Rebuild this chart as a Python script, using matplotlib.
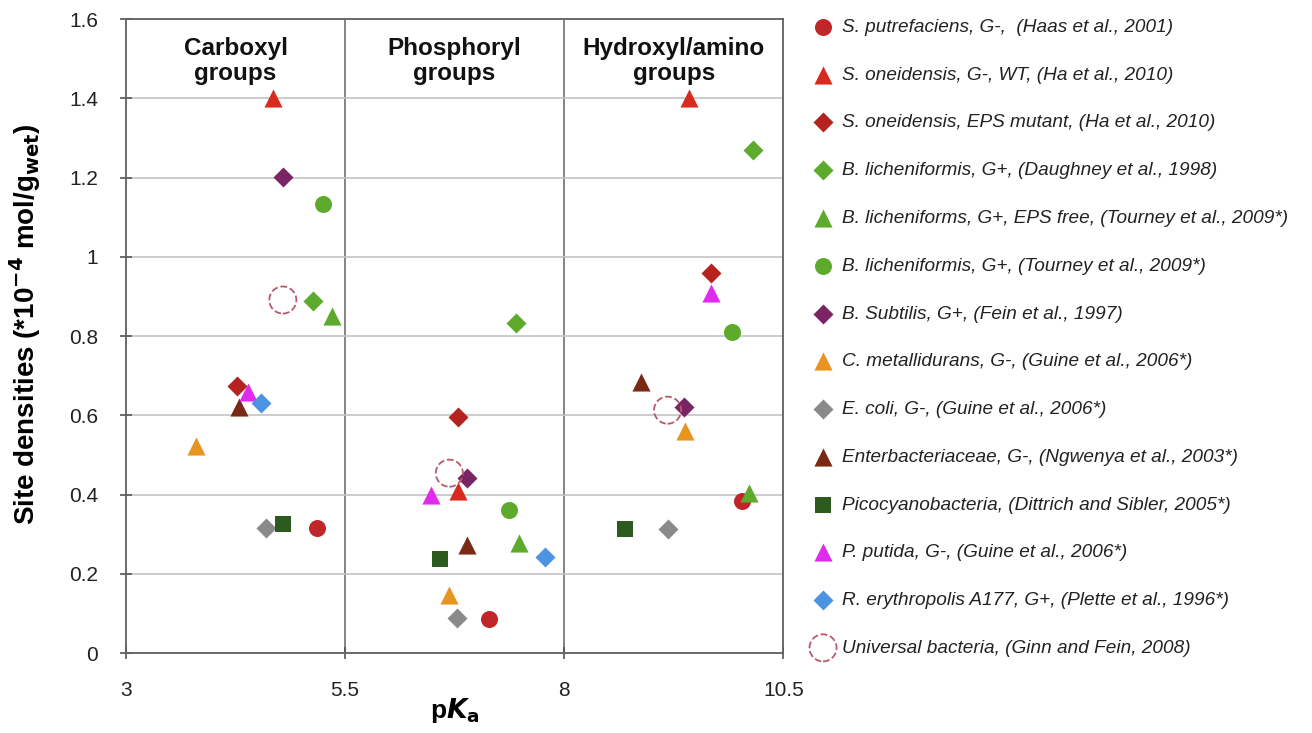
import matplotlib
matplotlib.use("Agg")
import matplotlib.pyplot as plt

plt.rcParams["font.family"] = ["Liberation Sans", "DejaVu Sans"]

# ---------------------------------------------------------------------------
# Site densities (x = pKa, y = site density in 1e-4 mol/g wet) per strain
# ---------------------------------------------------------------------------
labels = [
    "S. putrefaciens, G-,  (Haas et al., 2001)",
    "S. oneidensis, G-, WT, (Ha et al., 2010)",
    "S. oneidensis, EPS mutant, (Ha et al., 2010)",
    "B. licheniformis, G+, (Daughney et al., 1998)",
    "B. licheniforms, G+, EPS free, (Tourney et al., 2009*)",
    "B. licheniformis, G+, (Tourney et al., 2009*)",
    "B. Subtilis, G+, (Fein et al., 1997)",
    "C. metallidurans, G-, (Guine et al., 2006*)",
    "E. coli, G-, (Guine et al., 2006*)",
    "Enterbacteriaceae, G-, (Ngwenya et al., 2003*)",
    "Picocyanobacteria, (Dittrich and Sibler, 2005*)",
    "P. putida, G-, (Guine et al., 2006*)",
    "R. erythropolis A177, G+, (Plette et al., 1996*)",
    "Universal bacteria, (Ginn and Fein, 2008)",
]

pka = [
    [5.18, 7.14, 10.03],
    [4.68, 6.79, 9.43],
    [4.27, 6.79, 9.67],
    [5.13, 7.45, 10.15],
    [5.35, 7.49, 10.11],
    [5.25, 7.37, 9.91],
    [4.79, 6.89, 9.37],
    [3.80, 6.69, 9.38],
    [4.60, 6.78, 9.18],
    [4.29, 6.89, 8.88],
    [4.79, 6.58, 8.69],
    [4.39, 6.48, 9.68],
    [4.54, 7.78],
    [4.79, 6.69, 9.18],
]

density = [
    [0.315, 0.086, 0.384],
    [1.40, 0.41, 1.40],
    [0.674, 0.596, 0.96],
    [0.889, 0.834, 1.27],
    [0.85, 0.278, 0.404],
    [1.134, 0.361, 0.81],
    [1.202, 0.442, 0.621],
    [0.523, 0.146, 0.56],
    [0.315, 0.088, 0.313],
    [0.621, 0.273, 0.684],
    [0.326, 0.237, 0.313],
    [0.66, 0.40, 0.909],
    [0.632, 0.242],
    [0.891, 0.454, 0.613],
]

markers = ["o", "^", "D", "D", "^", "o", "D", "^", "D", "^", "s", "^", "D", "o"]
sizes = [150, 170, 104, 104, 170, 150, 104, 170, 104, 170, 132, 170, 104, 380]
colors = [
    "#C0252A", "#D92A20", "#B5221F", "#5DAA2C", "#5DAA2C", "#5DAA2C",
    "#7A2466", "#E8951F", "#8A8A8A", "#7A2A14", "#2D5A1E", "#E02BEF",
    "#4C93E2", "#B8596A",
]

group_names = ["Carboxyl\ngroups", "Phosphoryl\ngroups", "Hydroxyl/amino\ngroups"]
group_centers = [4.25, 6.75, 9.25]

fig = plt.figure(figsize=(13.12, 7.33), dpi=100)
ax = fig.add_axes([0.096, 0.109, 0.501, 0.865])

handles = []
for i, lab in enumerate(labels):
    if lab.startswith("Universal"):
        h = ax.scatter(pka[i], density[i], s=sizes[i], marker=markers[i],
                       facecolors="none", edgecolors=colors[i], linewidths=1.3,
                       linestyle="--", zorder=3, label=lab)
    else:
        h = ax.scatter(pka[i], density[i], s=sizes[i], marker=markers[i],
                       color=colors[i], linewidths=0, zorder=3, label=lab)
    handles.append(h)

ax.set_xlim(3, 10.5)
ax.set_ylim(0, 1.6)
ax.set_xticks([3, 5.5, 8, 10.5])
ax.set_xticklabels(["3", "5.5", "8", "10.5"])
ax.set_yticks([0, 0.2, 0.4, 0.6, 0.8, 1.0, 1.2, 1.4, 1.6])
ax.set_yticklabels(["0", "0.2", "0.4", "0.6", "0.8", "1", "1.2", "1.4", "1.6"])
ax.tick_params(axis="both", direction="inout", length=8, width=1.2,
               color="#555555", labelsize=15, labelcolor="#222222")
ax.tick_params(axis="y", pad=16)
ax.tick_params(axis="x", pad=16)

ax.grid(axis="y", color="#C4C4C4", linewidth=1.2, zorder=0)
for xv in [5.5, 8]:
    ax.axvline(xv, color="#707070", linewidth=1.2, zorder=1)
for side in ax.spines.values():
    side.set_color("#606060")
    side.set_linewidth(1.3)

for name, xc in zip(group_names, group_centers):
    ax.text(xc, 1.555, name, ha="center", va="top", fontsize=17.5,
            fontweight="bold", linespacing=1.1, color="#111111")

# y label placed in figure coordinates so it sits a little above the axes centre
fig.text(0.019, 0.284,
         r"Site densities (*10$^{\mathbf{-4}}$ mol/g$_{\mathbf{wet}}$)",
         rotation=90, ha="center", va="bottom", fontsize=20, fontweight="bold")
ax.set_xlabel(r"p$\boldsymbol{K}$$_{\mathbf{a}}$", fontsize=19, fontweight="bold",
              labelpad=-3)

fig.legend(handles=handles, loc="upper left", bbox_to_anchor=(0.607, 0.985),
           frameon=False, prop={"style": "italic", "size": 13.7},
           labelspacing=1.60, handletextpad=0.0, borderaxespad=0,
           scatterpoints=1, labelcolor="#222222")

fig.savefig("out.png", dpi=100)
